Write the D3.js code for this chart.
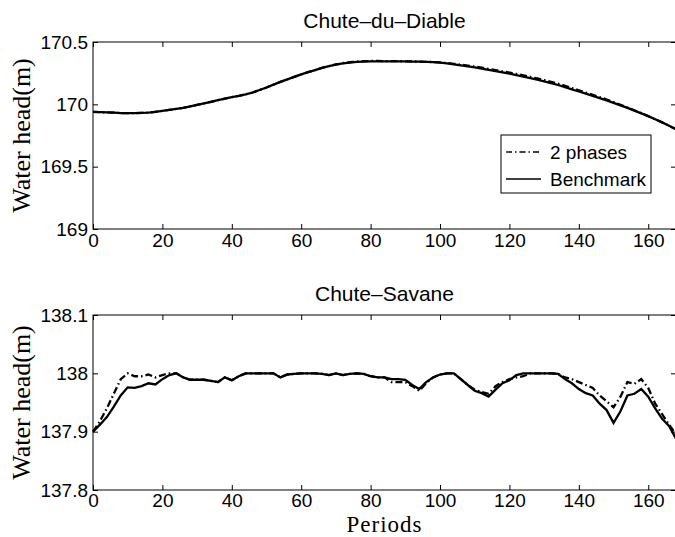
<!DOCTYPE html>
<html>
<head>
<meta charset="utf-8">
<script src="https://cdn.jsdelivr.net/npm/d3@7"></script>
<style>
  body { margin: 0; background: #fff; }
  svg { display: block; }
  .tick text { font-family: "Liberation Sans", Arial, sans-serif; font-size: 19px; fill: #000; }
  .tick line { stroke: #000; }
</style>
</head>
<body>
<div id="chart"></div>
<script>
// Periods shared by both reservoirs
const periods = [0,2,4,6,8,10,12,14,16,18,20,22,24,26,28,30,32,34,36,38,40,42,44,46,48,50,
  52,54,56,58,60,62,64,66,68,70,72,74,76,78,80,82,84,86,88,90,92,94,96,98,100,102,104,106,
  108,110,112,114,116,118,120,122,124,126,128,130,132,134,136,138,140,142,144,146,148,150,
  152,154,156,158,160,162,164,166,168];

// Chute-du-Diable water head (m)
const diableBench = [169.94,169.938,169.935,169.933,169.93,169.93,169.93,169.931,169.933,169.94,
  169.948,169.955,169.963,169.972,169.983,169.995,170.008,170.02,170.033,170.045,170.058,170.068,
  170.08,170.095,170.115,170.135,170.158,170.18,170.2,170.22,170.24,170.258,170.275,170.292,170.307,
  170.318,170.328,170.335,170.34,170.343,170.345,170.345,170.345,170.344,170.345,170.344,170.343,
  170.342,170.34,170.338,170.335,170.328,170.32,170.312,170.305,170.296,170.286,170.276,170.266,
  170.256,170.246,170.234,170.222,170.21,170.198,170.184,170.17,170.155,170.138,170.12,170.103,
  170.086,170.068,170.05,170.032,170.012,169.992,169.972,169.95,169.928,169.905,169.88,169.855,
  169.828,169.8];
const diable2ph = [169.94,169.938,169.935,169.933,169.93,169.93,169.93,169.931,169.933,169.94,
  169.948,169.955,169.963,169.972,169.983,169.995,170.008,170.02,170.033,170.045,170.058,170.068,
  170.08,170.095,170.115,170.135,170.158,170.18,170.2,170.22,170.24,170.258,170.275,170.292,170.307,
  170.32,170.33,170.338,170.343,170.346,170.348,170.348,170.347,170.346,170.346,170.345,170.344,
  170.343,170.341,170.339,170.336,170.331,170.325,170.318,170.311,170.303,170.294,170.284,170.274,
  170.265,170.255,170.244,170.232,170.22,170.208,170.195,170.181,170.166,170.149,170.131,170.113,
  170.095,170.077,170.058,170.039,170.018,169.997,169.975,169.952,169.929,169.905,169.88,169.855,
  169.828,169.8];

// Chute-Savane water head (m)
const savaneBench = [137.9,137.912,137.925,137.943,137.962,137.976,137.975,137.978,137.983,137.981,
  137.99,137.997,138.0,137.993,137.989,137.989,137.989,137.987,137.985,137.993,137.988,137.995,
  138.0,138.0,138.0,138.0,138.0,137.993,137.998,137.999,138.0,138.0,138.0,137.999,137.997,138.0,
  137.997,137.999,138.0,137.999,137.995,137.993,137.993,137.99,137.99,137.989,137.98,137.973,
  137.985,137.993,137.998,138.0,138.0,137.99,137.98,137.97,137.966,137.96,137.972,137.983,137.988,
  137.997,138.0,138.0,138.0,138.0,138.0,137.999,137.99,137.983,137.973,137.966,137.962,137.948,
  137.937,137.915,137.935,137.962,137.965,137.973,137.96,137.94,137.922,137.91,137.888];
const savane2ph = [137.9,137.918,137.94,137.965,137.99,138.0,137.995,137.995,137.998,137.993,
  137.997,138.0,138.0,137.993,137.989,137.989,137.989,137.987,137.985,137.993,137.988,137.995,
  138.0,138.0,138.0,138.0,138.0,137.993,137.998,137.999,138.0,138.0,138.0,137.999,137.997,138.0,
  137.997,137.999,138.0,137.999,137.995,137.993,137.993,137.985,137.985,137.985,137.978,137.97,
  137.983,137.993,137.998,138.0,138.0,137.99,137.98,137.972,137.968,137.965,137.978,137.985,137.99,
  137.993,137.995,138.0,138.0,138.0,138.0,137.999,137.993,137.99,137.985,137.98,137.975,137.962,
  137.952,137.942,137.96,137.985,137.982,137.99,137.975,137.948,137.93,137.912,137.895];

const xTicks = [0,20,40,60,80,100,120,140,160];
const diableTicks = [169,169.5,170,170.5];
const savaneTicks = [137.8,137.9,138,138.1];
const seriesNames = ["2 phases", "Benchmark"];

const W = 675, H = 537;
const svg = d3.select("#chart").append("svg")
  .attr("width", W)
  .attr("height", H);

const x = d3.scaleLinear().domain([0, 168]).range([93, 676]);

function drawPanel(o) {
  const y = d3.scaleLinear().domain(o.domain).range([o.bottom, o.top]);
  const g = svg.append("g");

  // inward ticks on all four sides
  g.append("g")
    .attr("transform", `translate(0,${o.bottom})`)
    .call(d3.axisBottom(x).tickValues(xTicks).tickSizeInner(-5).tickSizeOuter(0).tickPadding(o.xPad))
    .call(a => a.select(".domain").remove());
  g.append("g")
    .attr("transform", `translate(0,${o.top})`)
    .call(d3.axisTop(x).tickValues(xTicks).tickSizeInner(-5).tickSizeOuter(0).tickFormat(""))
    .call(a => a.select(".domain").remove());
  g.append("g")
    .attr("transform", "translate(93,0)")
    .call(d3.axisLeft(y).tickValues(o.ticks).tickSizeInner(-5).tickSizeOuter(0).tickPadding(5)
      .tickFormat(d3.format("~f")))
    .call(a => a.select(".domain").remove());
  g.append("g")
    .attr("transform", "translate(676,0)")
    .call(d3.axisRight(y).tickValues(o.ticks).tickSizeInner(-5).tickSizeOuter(0).tickFormat(""))
    .call(a => a.select(".domain").remove());

  // frame
  g.append("rect")
    .attr("x", 93).attr("y", o.top)
    .attr("width", 676 - 93).attr("height", o.bottom - o.top)
    .attr("fill", "none").attr("stroke", "#000").attr("stroke-width", 1);

  const line = vals => d3.line()
    .x((d, i) => x(periods[i]))
    .y(d => y(d))(vals);

  g.append("path")
    .attr("d", line(o.bench))
    .attr("fill", "none").attr("stroke", "#000").attr("stroke-width", 2.3);
  g.append("path")
    .attr("d", line(o.phase))
    .attr("fill", "none").attr("stroke", "#000").attr("stroke-width", 2.3)
    .attr("stroke-dasharray", "7,3,1.5,3");

  // title
  g.append("text")
    .attr("x", 384.5).attr("y", o.top - 14)
    .attr("text-anchor", "middle")
    .style("font-family", "Liberation Sans, Arial, sans-serif")
    .style("font-size", "21px")
    .text(o.title);

  // y label
  g.append("text")
    .attr("transform", `translate(30,${(o.top + o.bottom) / 2}) rotate(-90)`)
    .attr("text-anchor", "middle")
    .style("font-family", "Liberation Serif, Times New Roman, serif")
    .style("font-size", "26px")
    .text("Water head(m)");

  return g;
}

drawPanel({ top: 42, bottom: 229, domain: [169, 170.5], ticks: diableTicks, xPad: 5,
  bench: diableBench, phase: diable2ph, title: "Chute–du–Diable" });
drawPanel({ top: 315, bottom: 490, domain: [137.8, 138.1], ticks: savaneTicks, xPad: 4,
  bench: savaneBench, phase: savane2ph, title: "Chute–Savane" });

// x label
svg.append("text")
  .attr("x", 384.5).attr("y", 532)
  .attr("text-anchor", "middle")
  .style("font-family", "Liberation Serif, Times New Roman, serif")
  .style("font-size", "23px")
  .style("letter-spacing", "1px")
  .text("Periods");

// legend
const legend = svg.append("g");
legend.append("rect")
  .attr("x", 501).attr("y", 135)
  .attr("width", 150).attr("height", 58)
  .attr("fill", "#fff").attr("stroke", "#000").attr("stroke-width", 1);
seriesNames.forEach((name, i) => {
  const cy = 152 + i * 27;
  legend.append("line")
    .attr("x1", 506).attr("x2", 541)
    .attr("y1", cy).attr("y2", cy)
    .attr("stroke", "#000").attr("stroke-width", 1.3)
    .attr("stroke-dasharray", i === 0 ? "6,3,1.5,3" : null);
  legend.append("text")
    .attr("x", 550).attr("y", cy)
    .attr("dy", "0.35em")
    .style("font-family", "Liberation Sans, Arial, sans-serif")
    .style("font-size", "19px")
    .text(name);
});
</script>
</body>
</html>
